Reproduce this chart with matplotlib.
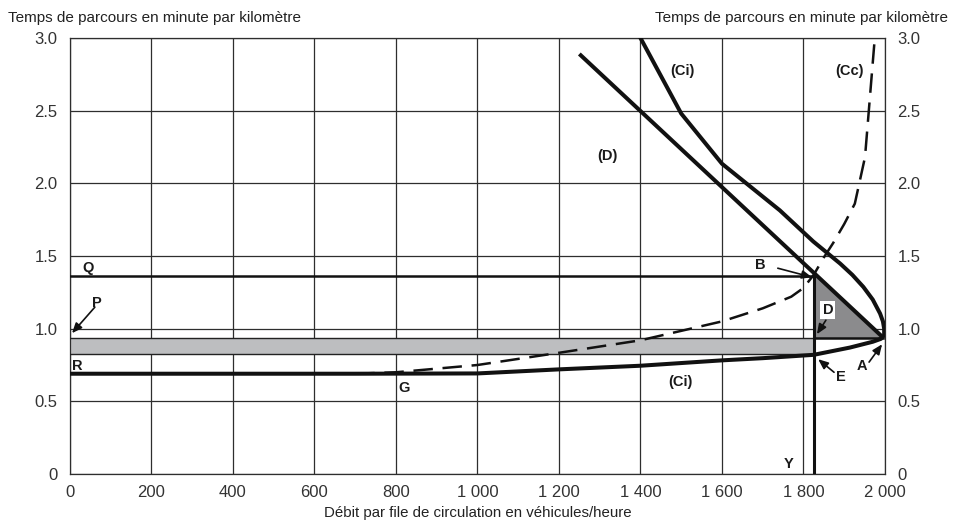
import matplotlib.pyplot as plt
import matplotlib as mpl

mpl.rcParams['font.family'] = ['Liberation Sans', 'DejaVu Sans']
mpl.rcParams['lines.scale_dashes'] = False

# axis ticks
x_ticks = [0, 200, 400, 600, 800, 1000, 1200, 1400, 1600, 1800, 2000]
x_tick_labels = ['0', '200', '400', '600', '800', '1 000', '1 200', '1 400', '1 600', '1 800', '2 000']
y_ticks = [0, 0.5, 1.0, 1.5, 2.0, 2.5, 3.0]
y_tick_labels = ['0', '0.5', '1.0', '1.5', '2.0', '2.5', '3.0']

# courbe (Ci) : branche basse, nez, branche haute
ci_x = [0, 700, 1000, 1200, 1400, 1600, 1700, 1825, 1914, 1970, 1990, 1998, 1998, 1995, 1988,
        1970, 1947, 1920, 1890, 1824, 1742, 1600, 1500, 1400]
ci_y = [0.69, 0.69, 0.692, 0.72, 0.745, 0.782, 0.797, 0.82, 0.87, 0.91, 0.93, 0.955, 1.0, 1.05, 1.104,
        1.2, 1.287, 1.37, 1.448, 1.6, 1.814, 2.135, 2.48, 3.0]

# courbe (Cc) en tirets
cc_x = [700, 800, 1000, 1200, 1400, 1600, 1700, 1770, 1800, 1825, 1850, 1873, 1900, 1926, 1951, 1963, 1975]
cc_y = [0.69, 0.70, 0.75, 0.834, 0.92, 1.05, 1.14, 1.22, 1.28, 1.37, 1.49, 1.59, 1.72, 1.86, 2.18, 2.59, 3.0]

# droite (D)
d_x = [1250, 1995]
d_y = [2.89, 0.94]

# points remarquables
x_y = 1825          # débit Y
y_q = 1.36          # niveau Q
y_p = 0.937         # niveau P
y_r = 0.825         # bas de la bande
x_a = 1995          # point A

fig = plt.figure(figsize=(9.56, 5.24), dpi=100)
ax = fig.add_axes([0.0732, 0.0954, 0.8525, 0.8321])
ax.set_xlim(0, 2000)
ax.set_ylim(0, 3.0)

grid_c = '#2e2e2e'
for xv in x_ticks:
    ax.axvline(xv, color=grid_c, lw=0.9, zorder=1)
for yv in y_ticks:
    ax.axhline(yv, color=grid_c, lw=0.9, zorder=1)
for s in ax.spines.values():
    s.set_color(grid_c)
    s.set_linewidth(0.9)

# bande grise P-R
ax.fill_between([0, x_y], y_r, y_p, color='#bdbec0', zorder=2, lw=0)
ax.plot([0, x_y], [y_p, y_p], color='#222222', lw=1.0, zorder=3)
ax.plot([0, x_y], [y_r, y_r], color='#222222', lw=1.0, zorder=3)

# triangle gris
tri_top = d_y[0] + (d_y[1] - d_y[0]) * (x_y - d_x[0]) / (d_x[1] - d_x[0])
ax.fill([x_y, x_y, x_a], [tri_top, y_p, y_p], color='#8b8b8d', zorder=2, lw=0)
ax.plot([x_y, x_a], [y_p, y_p], color='#111111', lw=1.8, zorder=4)

# lignes Q et Y
ax.plot([0, x_y], [y_q, y_q], color='#111111', lw=1.8, zorder=4)
ax.plot([x_y, x_y], [0, y_q], color='#111111', lw=2.2, zorder=4)

# courbes
ax.plot(cc_x, cc_y, color='#111111', lw=1.8, dashes=(14, 7), zorder=4)
ax.plot(d_x, d_y, color='#111111', lw=2.9, zorder=5, solid_capstyle='butt')
ax.plot(ci_x, ci_y, color='#111111', lw=2.9, zorder=5, solid_joinstyle='round')

ax.set_xticks(x_ticks)
ax.set_xticklabels(x_tick_labels)
ax.set_yticks(y_ticks)
ax.set_yticklabels(y_tick_labels)
ax.tick_params(length=0, pad=9, labelsize=12, colors='#333333')
ax.tick_params(axis='x', pad=8)

ax2 = ax.twinx()
ax2.set_ylim(0, 3.0)
ax2.set_yticks(y_ticks)
ax2.set_yticklabels(y_tick_labels)
ax2.tick_params(length=0, pad=9, labelsize=12, colors='#333333')
for s in ax2.spines.values():
    s.set_visible(False)

ax.set_xlabel('Débit par file de circulation en véhicules/heure', fontsize=10.8, labelpad=4, color='#222222')
fig.text(0.008, 0.966, 'Temps de parcours en minute par kilomètre', fontsize=11,
         ha='left', va='center', color='#222222')
fig.text(0.992, 0.966, 'Temps de parcours en minute par kilomètre', fontsize=11,
         ha='right', va='center', color='#222222')

# lettres
bold = dict(fontsize=10.5, fontweight='bold', color='#1a1a1a', ha='center', va='center', zorder=6)
ax.text(44, 1.416, 'Q', **bold)
ax.text(66, 1.175, 'P', **bold)
ax.text(17, 0.742, 'R', **bold)
ax.text(820, 0.591, 'G', **bold)
ax.text(1497, 0.632, '(Ci)', **bold)
ax.text(1318, 2.186, '(D)', **bold)
ax.text(1504, 2.77, '(Ci)', **bold)
ax.text(1914, 2.77, '(Cc)', **bold)
ax.text(1693, 1.436, 'B', **bold)
ax.text(1764, 0.069, 'Y', **bold)
ax.text(1892, 0.667, 'E', **bold)
ax.text(1944, 0.742, 'A', **bold)
ax.text(1860, 1.127, 'D', bbox=dict(boxstyle='square,pad=0.15', fc='white', ec='none'), **bold)

arrow = dict(arrowstyle='-|>,head_length=0.6,head_width=0.25', color='#111111', lw=1.2,
             shrinkA=0, shrinkB=0)
ax.annotate('', xy=(5, 0.969), xytext=(61, 1.148), arrowprops=arrow, zorder=6)
ax.annotate('', xy=(1821, 1.354), xytext=(1737, 1.416), arrowprops=arrow, zorder=6)
ax.annotate('', xy=(1833, 0.962), xytext=(1855, 1.058), arrowprops=arrow, zorder=6)
ax.annotate('', xy=(1836, 0.79), xytext=(1875, 0.70), arrowprops=arrow, zorder=6)
ax.annotate('', xy=(1993, 0.893), xytext=(1961, 0.77), arrowprops=arrow, zorder=6)

fig.savefig('out.png', dpi=100)
